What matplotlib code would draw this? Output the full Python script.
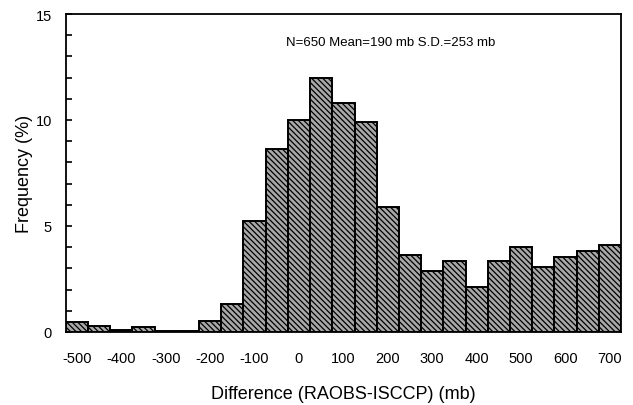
import numpy as np
import matplotlib
matplotlib.use('Agg')
import matplotlib.pyplot as plt

plt.rcParams['font.family'] = ['Liberation Sans', 'DejaVu Sans']
plt.rcParams['hatch.linewidth'] = 0.9
plt.rcParams['axes.unicode_minus'] = False

# 数据: 50 mb 一档的差值直方图
bin_centers = [-500, -450, -400, -350, -300, -250, -200, -150, -100, -50,
               0, 50, 100, 150, 200, 250, 300, 350, 400, 450,
               500, 550, 600, 650, 700]
freq = [0.46, 0.27, 0.10, 0.25, 0.06, 0.05, 0.53, 1.32, 5.25, 8.63,
        10.0, 12.0, 10.79, 9.9, 5.88, 3.63, 2.89, 3.33, 2.11, 3.36,
        4.0, 3.08, 3.55, 3.81, 4.12]
xticks = [-500, -400, -300, -200, -100, 0, 100, 200, 300, 400, 500, 600, 700]
yticks = [0, 5, 10, 15]

fig = plt.figure(figsize=(6.33, 4.06), dpi=100)
ax = fig.add_axes([0.104, 0.180, 0.877, 0.783])

ax.bar(bin_centers, freq, width=50, color='#a8a8a8', edgecolor='black',
       linewidth=1.4, hatch='\\\\\\\\\\\\')

ax.set_xlim(-525, 725)
ax.set_ylim(0, 15)
ax.set_xticks(xticks)
ax.set_yticks(yticks)
ax.set_yticks(np.arange(0, 16, 1), minor=True)
ax.tick_params(axis='x', length=0, pad=14, labelsize=10.5)
ax.tick_params(axis='y', which='both', direction='in', length=4, width=1.2, labelsize=10.5, pad=10)
for s in ax.spines.values():
    s.set_linewidth(1.3)

ax.text(207, 13.7, 'N=650 Mean=190 mb S.D.=253 mb', ha='center', va='center', fontsize=9.5)
ax.set_xlabel('Difference (RAOBS-ISCCP) (mb)', fontsize=13, labelpad=14)
ax.set_ylabel('Frequency (%)', fontsize=13, labelpad=2)

fig.savefig('out.png', dpi=100)
